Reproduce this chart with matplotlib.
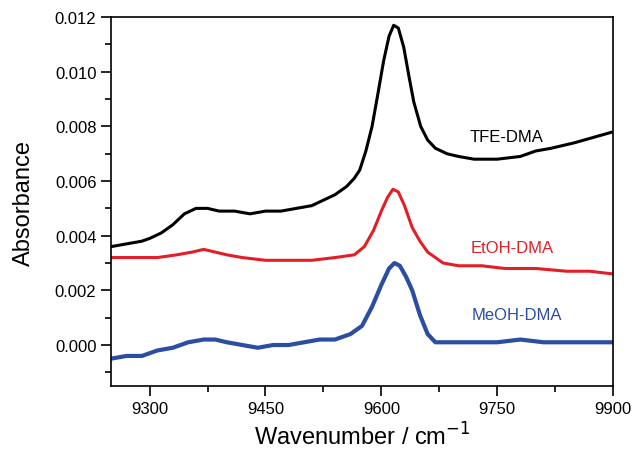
import matplotlib
matplotlib.use("Agg")
import matplotlib.pyplot as plt
from matplotlib.ticker import MultipleLocator

plt.rcParams['font.family'] = ['Liberation Sans', 'DejaVu Sans']

# TFE-DMA (black)
tfe_x = [9250, 9270, 9290, 9300, 9315, 9330, 9345, 9360, 9375, 9390, 9410, 9430, 9450,
         9470, 9490, 9510, 9525, 9540, 9555, 9565, 9572, 9580, 9588, 9595, 9603, 9610,
         9616, 9622, 9629, 9636, 9642, 9651, 9660, 9670, 9685, 9700, 9720, 9750, 9780,
         9800, 9820, 9850, 9875, 9900]
tfe_y = [0.0036, 0.0037, 0.0038, 0.0039, 0.0041, 0.0044, 0.0048, 0.0050, 0.0050, 0.0049,
         0.0049, 0.0048, 0.0049, 0.0049, 0.0050, 0.0051, 0.0053, 0.0055, 0.0058, 0.0061,
         0.0064, 0.0071, 0.0080, 0.0091, 0.0104, 0.0113, 0.0117, 0.0116, 0.0109, 0.0098,
         0.0089, 0.0080, 0.0075, 0.0072, 0.0070, 0.0069, 0.0068, 0.0068, 0.0069, 0.0071,
         0.0072, 0.0074, 0.0076, 0.0078]

# EtOH-DMA (red)
etoh_x = [9250, 9280, 9310, 9335, 9355, 9370, 9385, 9400, 9420, 9450, 9480, 9510, 9540,
          9565, 9578, 9590, 9600, 9608, 9615, 9622, 9630, 9640, 9650, 9660, 9670, 9680,
          9700, 9730, 9760, 9800, 9840, 9870, 9900]
etoh_y = [0.0032, 0.0032, 0.0032, 0.0033, 0.0034, 0.0035, 0.0034, 0.0033, 0.0032, 0.0031,
          0.0031, 0.0031, 0.0032, 0.0033, 0.0036, 0.0042, 0.0049, 0.0054, 0.0057, 0.0056,
          0.0051, 0.0043, 0.0038, 0.0034, 0.0032, 0.0030, 0.0029, 0.0029, 0.0028, 0.0028,
          0.0027, 0.0027, 0.0026]

# MeOH-DMA (blue)
meoh_x = [9250, 9270, 9290, 9310, 9330, 9350, 9370, 9385, 9400, 9420, 9440, 9460, 9480,
          9500, 9520, 9540, 9560, 9575, 9588, 9600, 9610, 9617, 9624, 9632, 9640, 9650,
          9660, 9670, 9690, 9720, 9750, 9780, 9810, 9840, 9870, 9900]
meoh_y = [-0.0005, -0.0004, -0.0004, -0.0002, -0.0001, 0.0001, 0.0002, 0.0002, 0.0001,
          0.0000, -0.0001, 0.0000, 0.0000, 0.0001, 0.0002, 0.0002, 0.0004, 0.0007, 0.0014,
          0.0022, 0.0028, 0.0030, 0.0029, 0.0025, 0.0020, 0.0011, 0.0004, 0.0001, 0.0001,
          0.0001, 0.0001, 0.0002, 0.0001, 0.0001, 0.0001, 0.0001]

labels = ["TFE-DMA", "EtOH-DMA", "MeOH-DMA"]
colors = ["#000000", "#e41e26", "#2b4ea2"]

fig = plt.figure(figsize=(6.33, 4.52), dpi=100)
ax = fig.add_axes([0.1754, 0.1438, 0.793, 0.8162])

ax.plot(tfe_x, tfe_y, color=colors[0], lw=2.2)
ax.plot(etoh_x, etoh_y, color=colors[1], lw=2.2)
ax.plot(meoh_x, meoh_y, color=colors[2], lw=3.0)

ax.text(9762, 0.00764, labels[0], color=colors[0], fontsize=12, ha='center', va='center')
ax.text(9769, 0.00357, labels[1], color=colors[1], fontsize=12, ha='center', va='center')
ax.text(9775, 0.00113, labels[2], color=colors[2], fontsize=12, ha='center', va='center')

ax.set_xlim(9250, 9900)
ax.set_ylim(-0.0015, 0.012)
ax.set_xticks([9300, 9450, 9600, 9750, 9900])
ax.set_yticks([0.000, 0.002, 0.004, 0.006, 0.008, 0.010, 0.012])
ax.set_yticklabels([f"{v:.3f}" for v in ax.get_yticks()])
ax.xaxis.set_minor_locator(MultipleLocator(75))
ax.yaxis.set_minor_locator(MultipleLocator(0.001))
ax.tick_params(which='both', direction='out', top=False, right=False, labelsize=12, width=1.2)
ax.tick_params(which='major', length=7)
ax.tick_params(which='minor', length=4)
for s in ax.spines.values():
    s.set_linewidth(1.2)

ax.set_xlabel("Wavenumber / cm$^{-1}$", fontsize=17, labelpad=5)
ax.set_ylabel("Absorbance", fontsize=17, labelpad=14)

fig.savefig("out.png", dpi=100)
